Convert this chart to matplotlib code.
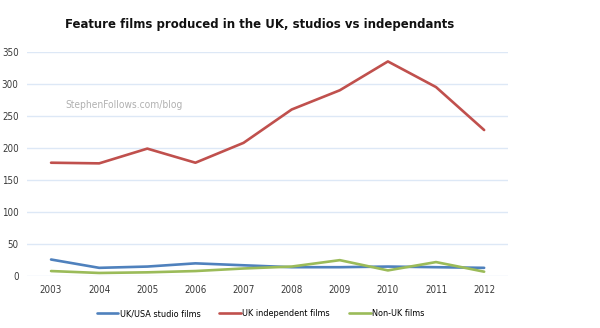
# UK feature film production, studios vs independents, 2003-2012
import numpy as np
import matplotlib.pyplot as plt

plt.rcParams['font.family'] = 'DejaVu Sans'
plt.rcParams['font.stretch'] = 'condensed'

years = ["2003", "2004", "2005", "2006", "2007", "2008", "2009", "2010", "2011", "2012"]
studio = [26, 13, 15, 20, 17, 14, 14, 15, 14, 13]
independent = [177, 176, 199, 177, 208, 260, 290, 335, 295, 228]
non_uk = [8, 5, 6, 8, 12, 15, 25, 9, 22, 7]

series_names = ["UK/USA studio films", "UK independent films", "Non-UK films"]
series_colors = ["#4f81bd", "#c0504d", "#9bbb59"]

fig = plt.figure(figsize=(6, 3.28), dpi=100)
ax = fig.add_axes([0.045, 0.158, 0.802, 0.684])

x = np.arange(len(years))
for vals, name, col in zip([studio, independent, non_uk], series_names, series_colors):
    ax.plot(x, vals, color=col, linewidth=1.9, label=name, solid_capstyle="round")

ax.set_xlim(-0.5, len(years) - 0.5)
ax.set_ylim(0, 350)
ax.set_yticks(range(0, 351, 50))
ax.set_xticks(x)
ax.set_xticklabels(years)
ax.grid(axis="y", color="#dde8f6", linewidth=1)
ax.set_axisbelow(True)
for s in ax.spines.values():
    s.set_visible(False)
ax.tick_params(length=0, labelsize=7, colors="#3a3a3a")
ax.tick_params(axis="y", pad=6)
ax.tick_params(axis="x", pad=6)

fig.text(0.433, 0.925, "Feature films produced in the UK, studios vs independants",
         ha="center", va="center", fontsize=9.4, fontweight="bold", color="#111111")

ax.text(0.08, 0.75, "StephenFollows.com/blog", transform=ax.transAxes,
        fontsize=7.3, color="#b0b0b0")

fig.legend(loc="center", bbox_to_anchor=(0.434, 0.044), ncol=3, frameon=False,
           fontsize=6.5, handlelength=2.4, columnspacing=2.1, handletextpad=0.15)

fig.savefig("out.png", dpi=100)
